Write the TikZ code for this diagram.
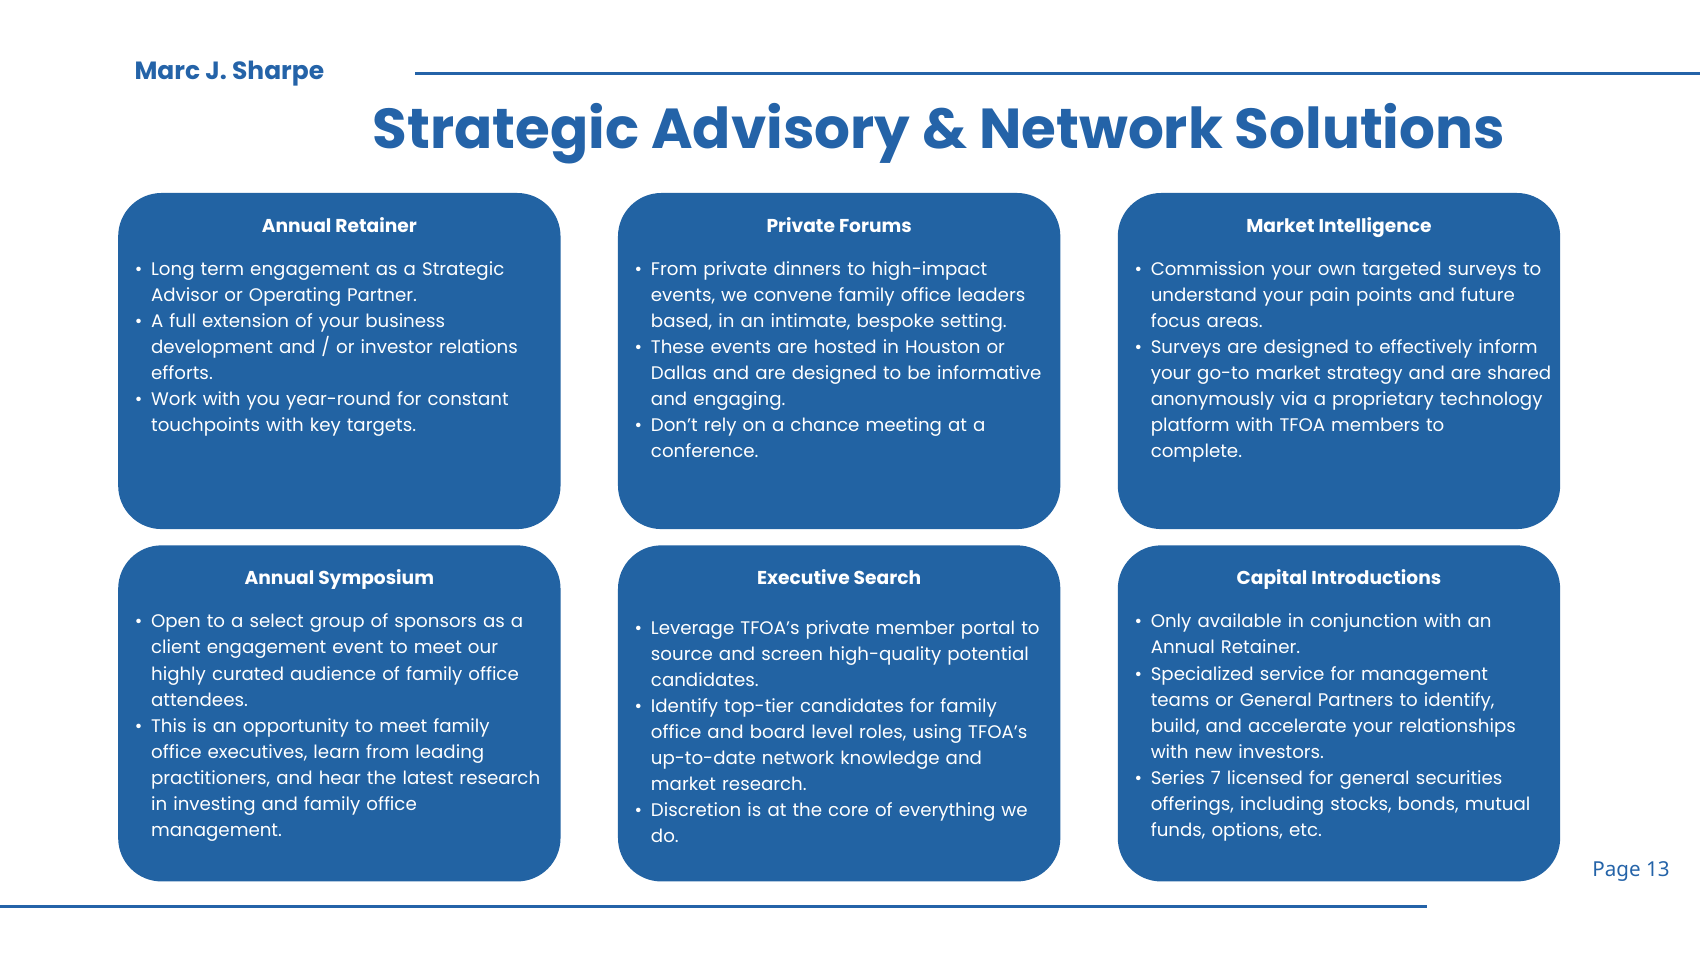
\documentclass[tikz,border=0pt]{standalone}
\usepackage{fontspec}
\setmainfont{Poppins}
\newfontfamily\pagefont{Noto Sans}
\definecolor{tfoablue}{HTML}{2263A3}
\definecolor{tfoatitle}{HTML}{2463A8}
\newcommand{\bitem}[1]{\noindent\makebox[7.5pt][l]{\textbullet}\parbox[t]{205pt}{\raggedright\strut #1\strut}\par}
\tikzset{
  card/.style={fill=tfoablue, rounded corners=20pt},
  cardhead/.style={text=white, font=\fontsize{8.6}{11}\selectfont\bfseries, anchor=base},
  cardbody/.style={text=white, anchor=north west, inner sep=0pt, text width=212pt, align=left,
    font=\fontsize{8.4}{12}\selectfont\setlength{\lineskip}{0pt}},
}
\begin{document}
\begin{tikzpicture}[x=0.5pt,y=-0.5pt]
\useasboundingbox (0,0) rectangle (1568,882);
% Header and rules
\node[text=tfoatitle, font=\fontsize{11.5}{14}\selectfont\bfseries, anchor=west] (author) at (117,68) {Marc J. Sharpe};
\node[text=tfoatitle, font=\fontsize{26}{30}\selectfont\bfseries] (title) at (866,123) {Strategic Advisory \& Network Solutions};
\coordinate (topl) at (383,68);
\coordinate (topr) at (1568,68);
\draw[tfoatitle, line width=1.2pt] (topl) -- (topr);
\coordinate (botl) at (0,836);
\coordinate (botr) at (1316,836);
\draw[tfoatitle, line width=1.5pt] (botl) -- (botr);
\node[text=tfoatitle, font=\pagefont\fontsize{9.5}{11}\selectfont, anchor=east] (page) at (1547,804) {Page 13};
% Cards, top row
\fill[card] (109,178) rectangle (517,488);
\fill[card] (570,178) rectangle (978,488);
\fill[card] (1031,178) rectangle (1439,488);
% Cards, bottom row
\fill[card] (109,503) rectangle (517,813);
\fill[card] (570,503) rectangle (978,813);
\fill[card] (1031,503) rectangle (1439,813);
% Headings
\node[cardhead] (retainer) at (313,214) {Annual Retainer};
\node[cardhead] (forums) at (774,214) {Private Forums};
\node[cardhead] (intel) at (1235,214) {Market Intelligence};
\node[cardhead] (symposium) at (313,539) {Annual Symposium};
\node[cardhead] (search) at (774,539) {Executive Search};
\node[cardhead] (capital) at (1235,539) {Capital Introductions};
% Bodies
\node[cardbody] (retainerbody) at (124,237) {%
\bitem{Long term engagement as a Strategic\\ Advisor or Operating Partner.}
\bitem{A full extension of your business\\ development and / or investor relations\\ efforts.}
\bitem{Work with you year-round for constant\\ touchpoints with key targets.}};
\node[cardbody] (forumsbody) at (585,237) {%
\bitem{From private dinners to high-impact\\ events, we convene family office leaders\\ based, in an intimate, bespoke setting.}
\bitem{These events are hosted in Houston or\\ Dallas and are designed to be informative\\ and engaging.}
\bitem{Don’t rely on a chance meeting at a\\ conference.}};
\node[cardbody] (intelbody) at (1046,237) {%
\bitem{Commission your own targeted surveys to\\ understand your pain points and future\\ focus areas.}
\bitem{Surveys are designed to effectively inform\\ your go-to market strategy and are shared\\ anonymously via a proprietary technology\\ platform with TFOA members to\\ complete.}};
\node[cardbody] (symposiumbody) at (124,562) {%
\bitem{Open to a select group of sponsors as a\\ client engagement event to meet our\\ highly curated audience of family office\\ attendees.}
\bitem{This is an opportunity to meet family\\ office executives, learn from leading\\ practitioners, and hear the latest research\\ in investing and family office\\ management.}};
\node[cardbody] (searchbody) at (585,568) {%
\bitem{Leverage TFOA’s private member portal to\\ source and screen high-quality potential\\ candidates.}
\bitem{Identify top-tier candidates for family\\ office and board level roles, using TFOA’s\\ up-to-date network knowledge and\\ market research.}
\bitem{Discretion is at the core of everything we\\ do.}};
\node[cardbody] (capitalbody) at (1046,562) {%
\bitem{Only available in conjunction with an\\ Annual Retainer.}
\bitem{Specialized service for management\\ teams or General Partners to identify,\\ build, and accelerate your relationships\\ with new investors.}
\bitem{Series 7 licensed for general securities\\ offerings, including stocks, bonds, mutual\\ funds, options, etc.}};
\end{tikzpicture}
\end{document}
